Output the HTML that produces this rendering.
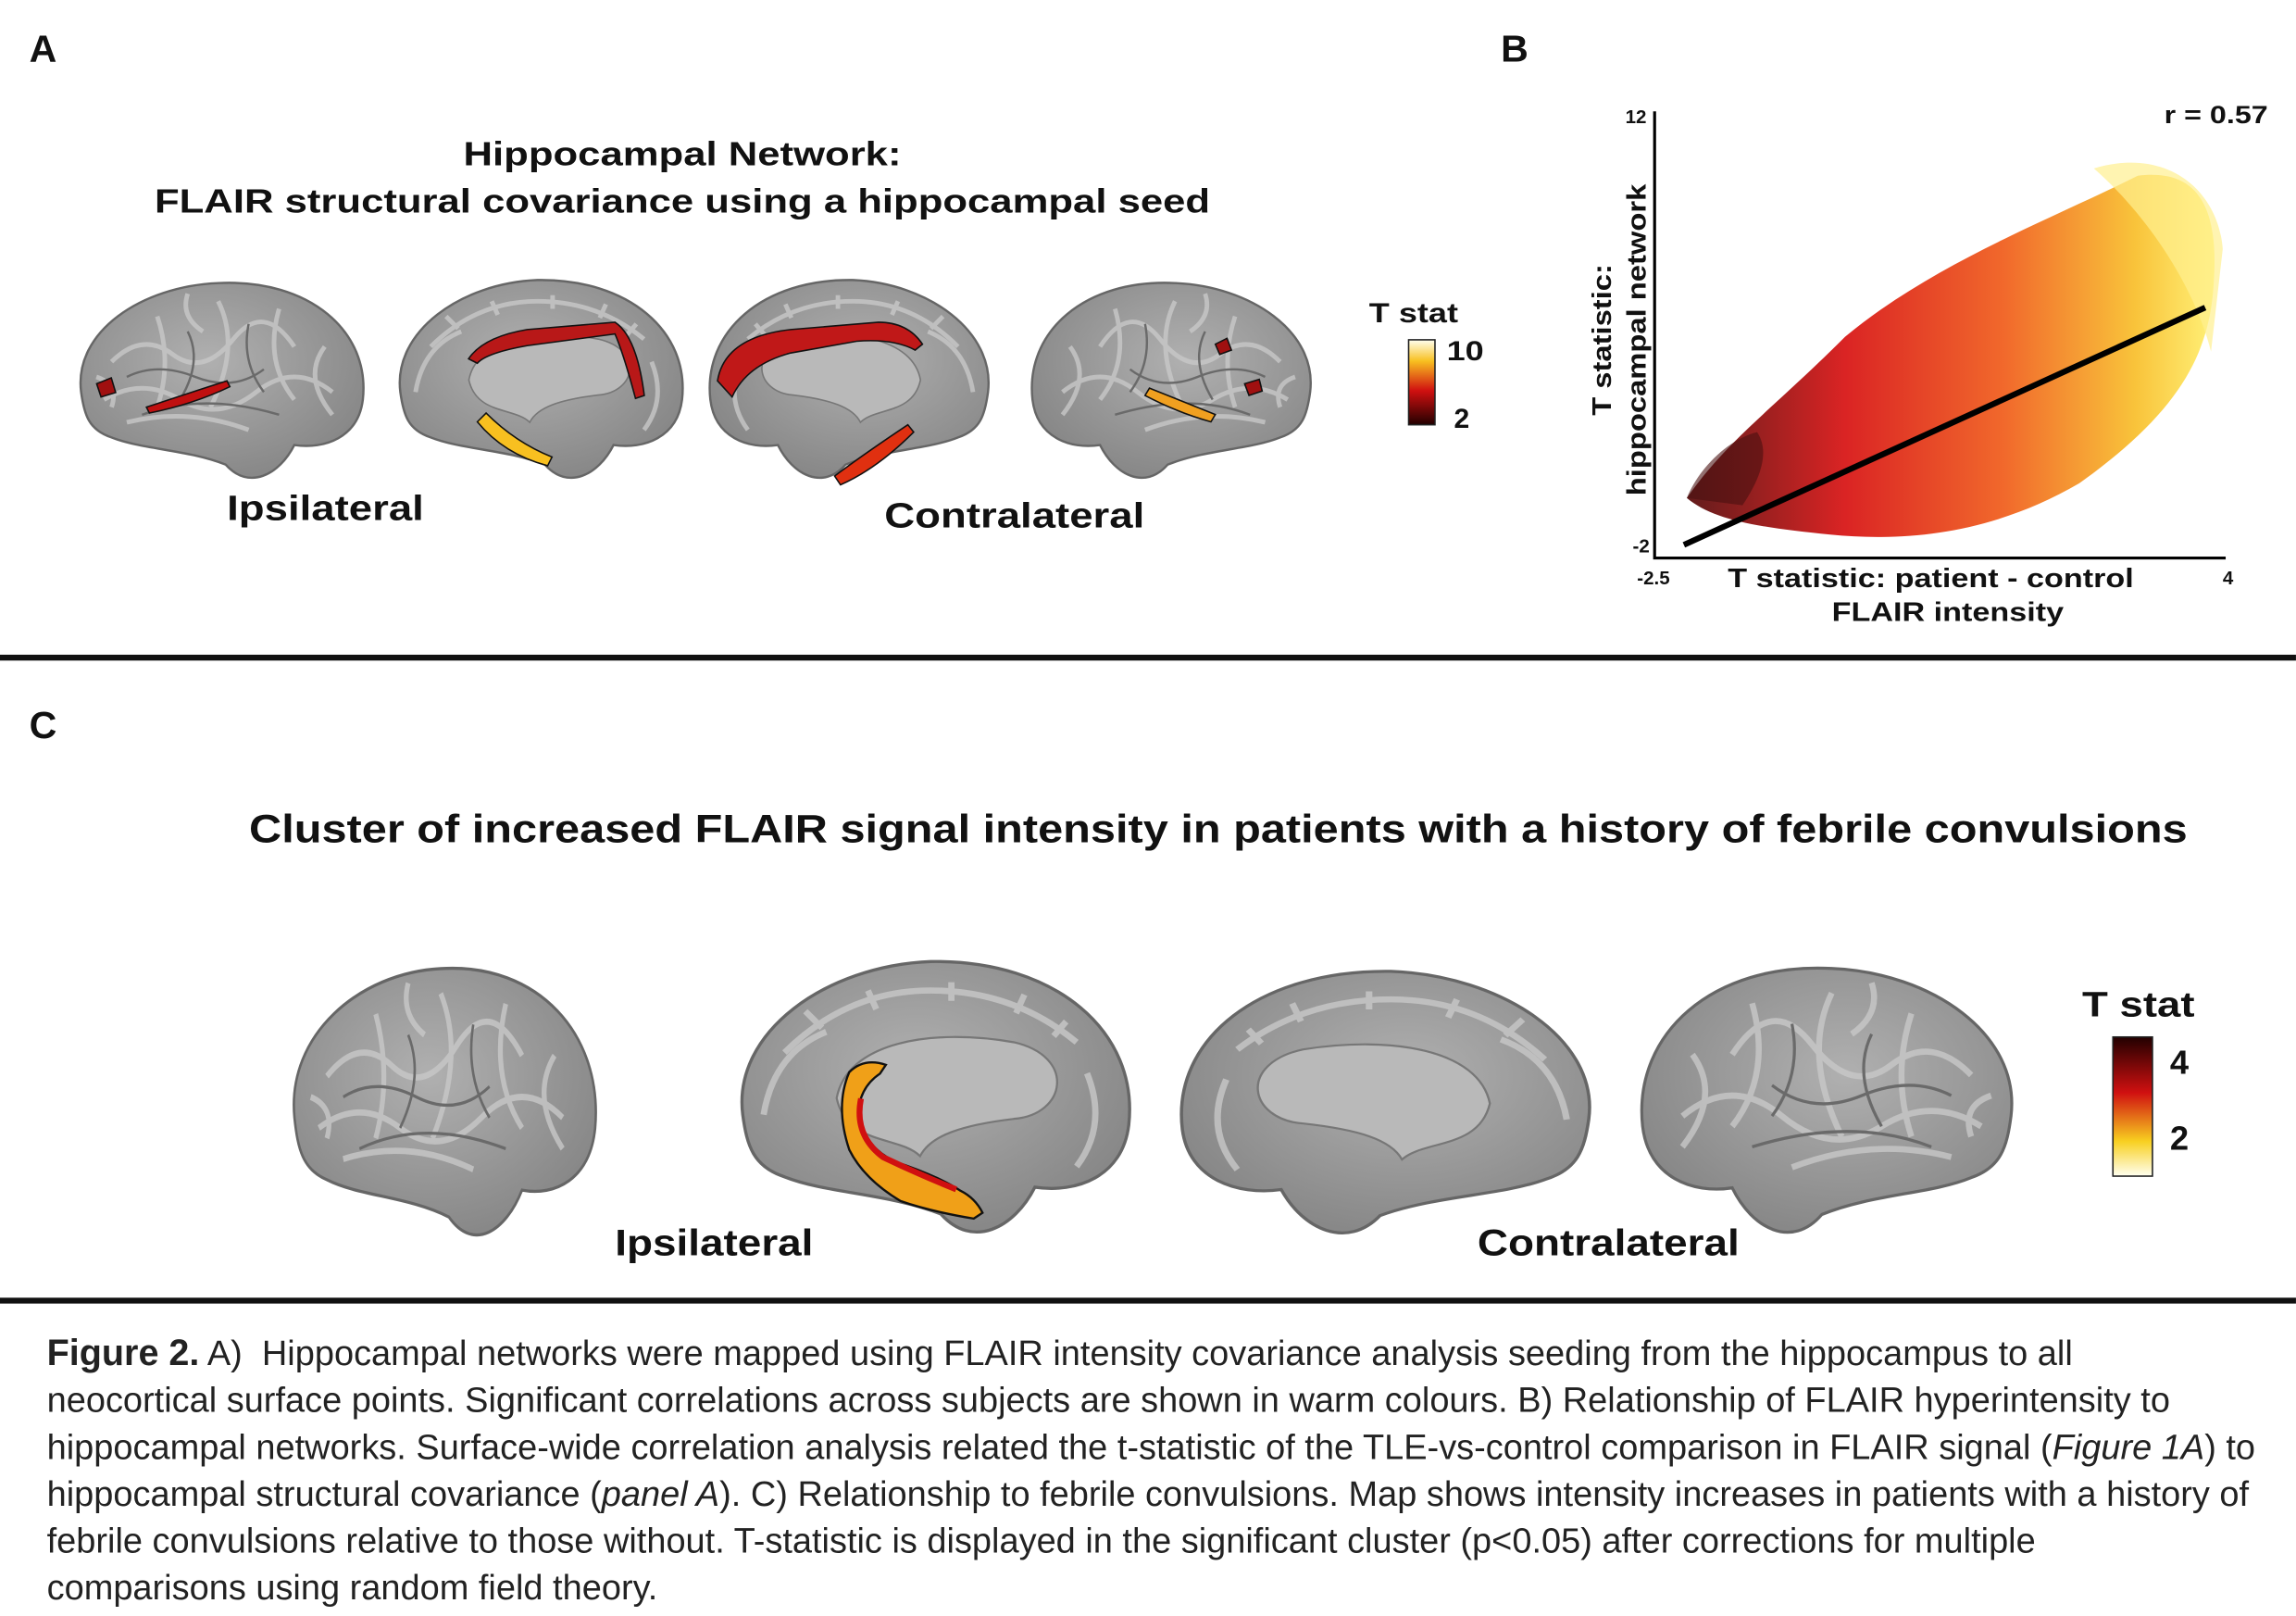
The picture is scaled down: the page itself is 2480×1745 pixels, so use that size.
<!DOCTYPE html>
<html><head><meta charset="utf-8"><style>
html,body{margin:0;padding:0;background:#fff;}
#w{width:1568px;height:1103px;position:relative;transform:scale(1.5816);transform-origin:0 0;font-family:"Liberation Sans",sans-serif;color:#111;overflow:hidden}
.t{position:absolute;font-weight:bold;white-space:nowrap}
.s{transform:scaleX(1.2);transform-origin:0 0}
.cap{position:absolute;left:32px;font-size:24px;line-height:32px;top:908px;width:1540px;color:#222;white-space:nowrap}
</style></head><body><div id="w">
<div class="t" style="left:20px;top:18px;font-size:26px">A</div>
<div class="t" style="left:1025px;top:18px;font-size:26px">B</div>
<div class="t" style="left:20px;top:480px;font-size:26px">C</div>
<div class="t" style="left:0;width:932px;text-align:center;top:89px;font-size:23px;line-height:32px;transform:scaleX(1.2);transform-origin:466px 0">Hippocampal Network:<br>FLAIR structural covariance using a hippocampal seed</div>
<svg width="1568" height="1103" style="position:absolute;left:0;top:0">
<defs>
<radialGradient id="g" cx="45%" cy="40%" r="65%"><stop offset="0" stop-color="#b0b0b0"/><stop offset="1" stop-color="#858585"/></radialGradient>
<linearGradient id="cb1" x1="0" y1="1" x2="0" y2="0"><stop offset="0" stop-color="#200"/><stop offset=".4" stop-color="#d01010"/><stop offset=".75" stop-color="#f8c020"/><stop offset="1" stop-color="#fffff0"/></linearGradient>
<linearGradient id="cb2" x1="0" y1="0" x2="0" y2="1"><stop offset="0" stop-color="#200"/><stop offset=".4" stop-color="#d01010"/><stop offset=".75" stop-color="#f8d020"/><stop offset="1" stop-color="#fffff0"/></linearGradient>
<linearGradient id="sc" x1="0" y1="0" x2="1" y2="0"><stop offset="0" stop-color="#5a1010"/><stop offset=".3" stop-color="#d81818"/><stop offset=".6" stop-color="#f06020"/><stop offset=".85" stop-color="#f8c030"/><stop offset="1" stop-color="#fff070"/></linearGradient>
<symbol id="lat" viewBox="0 0 200 150" preserveAspectRatio="none"><path d="M10,80 C5,40 50,10 100,8 C160,5 200,40 195,85 C192,110 170,118 150,115 C140,135 120,145 105,128 C80,118 50,118 30,110 C15,105 12,95 10,80Z" fill="url(#g)" stroke="#666" stroke-width="1.5"/>
<g fill="none" stroke="#c8c8c8" stroke-width="3" opacity=".8"><path d="M30,60 q20,-20 40,-5 t40,-10 t40,5"/><path d="M25,85 q25,-15 50,0 t50,-5 t50,0"/><path d="M60,30 q10,30 0,60"/><path d="M100,20 q15,30 -5,70"/><path d="M140,25 q-10,35 10,60"/><path d="M170,50 q-15,20 5,45"/><path d="M40,100 q40,-10 80,5"/><path d="M20,70 q15,5 10,20"/><path d="M80,15 q-5,15 10,25"/></g>
<g fill="none" stroke="#6a6a6a" stroke-width="1.5"><path d="M40,70 q20,-10 45,0 t45,-5"/><path d="M80,40 q10,20 -5,45"/><path d="M120,35 q-5,25 10,45"/><path d="M50,95 q40,-15 90,0"/></g></symbol>
<symbol id="med" viewBox="0 0 200 150" preserveAspectRatio="none"><path d="M10,80 C5,40 50,8 100,6 C160,5 200,40 195,85 C192,110 170,118 150,115 C140,135 120,145 105,128 C80,118 50,118 30,110 C15,105 12,95 10,80Z" fill="url(#g)" stroke="#666" stroke-width="1.5"/>
<g fill="none" stroke="#c8c8c8" stroke-width="3" opacity=".8"><path d="M30,50 q30,-30 70,-30 t70,25"/><path d="M20,80 q5,-30 30,-40"/><path d="M175,60 q10,25 -5,45"/><path d="M40,30 l8,8 M70,20 l4,9 M110,16 l0,9 M145,22 l-4,9 M165,35 l-6,7"/></g>
<path d="M55,72 C60,45 100,38 140,45 C170,52 165,80 140,82 C115,85 100,90 95,100 C85,90 60,95 55,72Z" fill="#b9b9b9" stroke="#777"/></symbol>
</defs>
<use href="#lat" x="45" y="185" width="208" height="155"/>
<use href="#med" x="263" y="185" width="208" height="155"/>
<use href="#med" x="480" y="185" width="205" height="155" transform="translate(1165,0) scale(-1,1)"/>
<use href="#lat" x="700" y="185" width="205" height="155" transform="translate(1605,0) scale(-1,1)"/>
<g stroke="#111" stroke-width="1">
<path d="M100,278 q30,-10 55,-18 l2,4 q-25,12 -55,18Z" fill="#c01010"/>
<path d="M66,262 l10,-4 3,10 -10,3Z" fill="#a01010"/>
<path d="M320,245 q10,-15 40,-20 l60,-5 q15,10 20,50 l-6,2 q-8,-30 -14,-44 l-60,8 q-28,5 -34,12Z" fill="#b81818"/>
<path d="M332,282 q20,20 45,30 l-3,6 q-30,-8 -48,-30Z" fill="#f8c020"/>
<path d="M490,260 q5,-30 50,-35 l60,-5 q20,0 30,15 l-5,4 q-15,-8 -40,-6 l-45,8 q-30,8 -40,30Z" fill="#c01818"/>
<path d="M570,325 q20,-15 50,-35 l4,5 q-25,25 -50,36Z" fill="#e03010"/>
<path d="M785,265 q25,10 45,18 l-3,5 q-22,-6 -45,-18Z" fill="#f0a020"/>
<path d="M830,235 l8,-4 3,8 -8,3Z M850,262 l10,-3 2,8 -9,3Z" fill="#a01010"/>
</g>
<rect x="962" y="232" width="18" height="58" fill="url(#cb1)" stroke="#222"/>
<path d="M1152,340 C1180,300 1210,280 1260,230 C1320,180 1400,150 1460,120 C1500,115 1515,140 1512,190 C1510,240 1490,280 1420,330 C1360,365 1300,370 1250,365 C1200,360 1170,355 1152,340Z" fill="url(#sc)" opacity=".95"/>
<path d="M1430,115 C1480,100 1515,130 1518,170 L1510,240 C1500,200 1470,150 1430,115Z" fill="#fff090" opacity=".7"/>
<path d="M1152,340 C1160,320 1180,300 1200,295 C1210,310 1200,330 1190,345Z" fill="#4a1010" opacity=".6"/>
<line x1="1150" y1="372" x2="1506" y2="210" stroke="#000" stroke-width="4"/>
<path d="M1130,76 V381 H1520" fill="none" stroke="#000" stroke-width="2"/>
<use href="#lat" x="190" y="650" width="222" height="212"/>
<use href="#med" x="493" y="648" width="285" height="212"/>
<use href="#med" x="800" y="655" width="300" height="205" transform="translate(1900,0) scale(-1,1)"/>
<use href="#lat" x="1115" y="650" width="272" height="210" transform="translate(2502,0) scale(-1,1)"/>
<path d="M580,732 q10,-10 25,-5 l-4,6 q-15,10 -15,30 q5,20 25,30 q30,10 45,20 q10,5 15,15 l-6,4 q-30,-5 -50,-12 q-25,-15 -35,-35 q-10,-30 0,-53Z" fill="#f0a018" stroke="#111" stroke-width="1.5"/>
<path d="M588,750 q-5,25 15,40 q25,12 50,22" stroke="#d01010" stroke-width="4" fill="none"/>
<rect x="1443" y="708" width="27" height="95" fill="url(#cb2)" stroke="#222"/>
<rect x="0" y="447" width="1568" height="4" fill="#111"/>
<rect x="0" y="886" width="1568" height="4" fill="#111"/>
</svg>
<div class="t s" style="left:935px;top:204px;font-size:19px">T stat</div>
<div class="t s" style="left:988px;top:230px;font-size:19px">10</div>
<div class="t" style="left:993px;top:276px;font-size:19px">2</div>
<div class="t s" style="left:155px;top:334px;font-size:24px">Ipsilateral</div>
<div class="t s" style="left:604px;top:339px;font-size:24px">Contralateral</div>
<div class="t" style="left:1110px;top:72px;font-size:13px">12</div>
<div class="t" style="left:1115px;top:365px;font-size:13px">-2</div>
<div class="t" style="left:1118px;top:387px;font-size:13px">-2.5</div>
<div class="t" style="left:1518px;top:387px;font-size:13px">4</div>
<div class="t s" style="left:1478px;top:69px;font-size:17px">r = 0.57</div>
<div class="t s" style="left:1180px;top:385px;font-size:18px">T statistic: patient - control</div>
<div class="t s" style="left:1251px;top:408px;font-size:18px">FLAIR intensity</div>
<div class="t" style="left:1106px;top:232px;font-size:18px;transform:translate(-50%,-50%) rotate(-90deg) scaleX(1.15);text-align:center;line-height:24px">T statistic:<br>hippocampal network</div>
<div class="t" style="left:0;width:1664px;text-align:center;top:551px;font-size:27px;transform:scaleX(1.14);transform-origin:832px 0">Cluster of increased FLAIR signal intensity in patients with a history of febrile convulsions</div>
<div class="t s" style="left:1422px;top:673px;font-size:24px">T stat</div>
<div class="t" style="left:1482px;top:712px;font-size:23px">4</div>
<div class="t" style="left:1482px;top:764px;font-size:23px">2</div>
<div class="t s" style="left:420px;top:835px;font-size:25px;transform:scaleX(1.16)">Ipsilateral</div>
<div class="t s" style="left:1009px;top:835px;font-size:25px;transform:scaleX(1.16)">Contralateral</div>
<div class="cap"><b style="font-size:25px">Figure 2.</b> A)&nbsp; Hippocampal networks were mapped using FLAIR intensity covariance analysis seeding from the hippocampus to all<br>neocortical surface points. Significant correlations across subjects are shown in warm colours. B) Relationship of FLAIR hyperintensity to<br>hippocampal networks. Surface-wide correlation analysis related the t-statistic of the TLE-vs-control comparison in FLAIR signal (<i>Figure 1A</i>) to<br>hippocampal structural covariance (<i>panel A</i>). C) Relationship to febrile convulsions. Map shows intensity increases in patients with a history of<br>febrile convulsions relative to those without. T-statistic is displayed in the significant cluster (p&lt;0.05) after corrections for multiple<br>comparisons using random field theory.</div>
</div></body></html>
